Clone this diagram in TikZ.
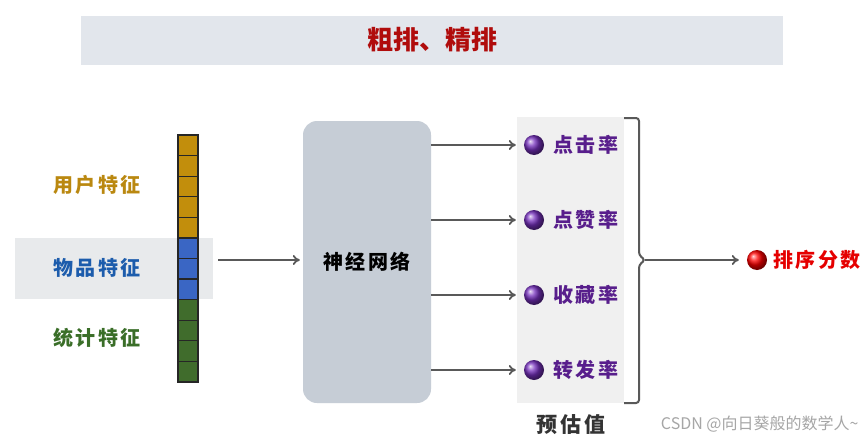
\documentclass[tikz,border=0pt]{standalone}
\usepackage{fontspec}
\usetikzlibrary{arrows.meta}
\newfontfamily\cjk{Noto Sans CJK SC}
\newfontfamily\cjkwide{Noto Sans CJK SC}[LetterSpace=12]
\definecolor{banner}{RGB}{226,230,236}
\definecolor{titlered}{RGB}{176,12,12}
\definecolor{gold}{RGB}{194,142,12}
\definecolor{goldtext}{RGB}{186,136,16}
\definecolor{itemblue}{RGB}{58,102,196}
\definecolor{bluetext}{RGB}{28,92,172}
\definecolor{statgreen}{RGB}{64,108,44}
\definecolor{greentext}{RGB}{58,110,40}
\definecolor{band}{RGB}{232,234,236}
\definecolor{netgray}{RGB}{198,205,214}
\definecolor{panel}{RGB}{240,240,240}
\definecolor{ballpurple}{RGB}{118,48,190}
\definecolor{purpletext}{RGB}{88,30,140}
\begin{document}
\begin{tikzpicture}[x=1pt,y=-1pt,
    lbl/.style={font=\cjkwide\bfseries\fontsize{20}{24}\selectfont},
    cell/.style={draw=black!85,line width=1.3pt},
    flow/.style={-{To[length=7pt,width=10pt]},line width=1.8pt,draw=black!65},
    ballnode/.style={circle,minimum size=20pt,inner sep=0pt}]
    \useasboundingbox[fill=white](0,0) rectangle (865,439);

    % title
    \node[fill=banner,minimum width=702pt,minimum height=49pt,text=titlered,
        font=\cjk\bfseries\fontsize{26}{30}\selectfont](title)at(432,40){粗排、精排};

    % features
    \fill[band](15,238)rectangle(213,299);
    \node[lbl,text=goldtext](user)at(97,185){用户特征};
    \node[lbl,text=bluetext](item)at(97,268){物品特征};
    \node[lbl,text=greentext](stat)at(97,338){统计特征};
    \foreach \i/\c in {0/gold,1/gold,2/gold,3/gold,4/gold,5/itemblue,6/itemblue,
        7/itemblue,8/statgreen,9/statgreen,10/statgreen,11/statgreen}
        \draw[cell,fill=\c](178,{135+\i*20.58})rectangle(198,{155.58+\i*20.58});

    % network
    \node[rounded corners=14pt,fill=netgray,minimum width=128pt,minimum height=282pt,
        font=\cjkwide\bfseries\fontsize{20}{24}\selectfont](net)at(367,262){神经网络};
    \coordinate(in)at(218,260);
    \draw[flow](in)--([xshift=-3pt]net.west|-in);

    % predictions
    \fill[panel](517,117)rectangle(624,403);
    \foreach \y/\t/\n in {145/点击率/ctr,220/点赞率/like,295/收藏率/fav,370/转发率/share}{
        \node[ballnode,ball color=ballpurple](b\n)at(534,\y){};
        \node[lbl,text=purpletext,anchor=west](t\n)at(550,\y){\t};
        \draw[flow](net.east|-b\n)--([xshift=-8pt]b\n.west);
    }
    \node[font=\cjkwide\bfseries\fontsize{21}{24}\selectfont,text=black!80](est)at(571,425){预估值};

    % merge
    \draw[line width=2pt,draw=black!65,rounded corners=3pt](624,118)--(639,118)--(639,255)
        --(645,260)--(639,265)--(639,403)--(624,403);
    \coordinate(brace)at(645,260);
    \node[ballnode,ball color=red](score)at(757,260){};
    \node[lbl,text=red!90!black,anchor=west](scoretext)at(770,260){排序分数};
    \draw[flow](brace)--([xshift=-8pt]score.west);

    \node[font=\cjk\fontsize{16}{18}\selectfont,text=black!35,anchor=east](mark)at(862,424){CSDN @向日葵般的数学人\textasciitilde};
\end{tikzpicture}
\end{document}
